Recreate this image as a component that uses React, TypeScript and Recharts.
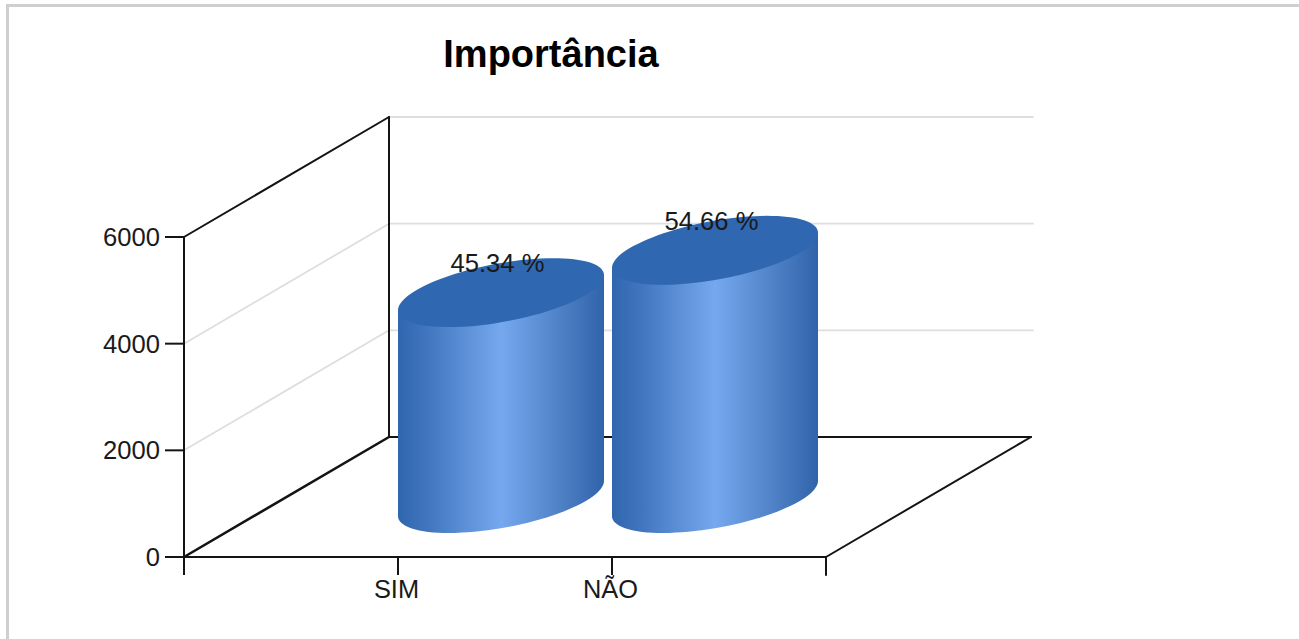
import React from "react";
import { BarChart, Bar, XAxis, YAxis, LabelList, usePlotArea } from "recharts";

const categories = ["", "SIM", "NÃO"];
const totals = [null, 3860, 4654];
const percents = ["", "45.34 %", "54.66 %"];
const yTicks = [0, 2000, 4000, 6000];

const chartData = categories.map((name, i) => ({ name, total: totals[i], percent: percents[i] }));

const W = 1299;
const H = 639;
const Y_MAX = 6000;
// depth of the fake 3d box
const DEPTH_X = 205;
const DEPTH_Y = 120;
// cylinder placement in the box and shape of its sheared ellipse
const CYL_DX = -4;
const CYL_DY = -58.5;
const CYL_RX = 103;
const CYL_SHEAR = 17.5;
const CYL_RY = 29.7;

const ink = "#141414";
const gridGrey = "#dedede";

function Frame() {
  const plot = usePlotArea();
  if (!plot) return null;
  const { x, y, width, height } = plot;
  const right = x + width;
  const bottom = y + height;
  const levels = yTicks.map((t) => bottom - (t / Y_MAX) * height);
  const backX = x + DEPTH_X;
  return (
    <g fill="none" strokeLinecap="round">
      {levels.slice(1).map((ly, i) => (
        <g key={i} stroke={gridGrey} strokeWidth={1.8}>
          <line x1={backX} y1={ly - DEPTH_Y} x2={right + DEPTH_X + 2} y2={ly - DEPTH_Y} />
          {i < levels.length - 2 && <line x1={x} y1={ly} x2={backX} y2={ly - DEPTH_Y} />}
        </g>
      ))}
      <g stroke={ink} strokeWidth={2}>
        <line x1={x} y1={y} x2={backX} y2={y - DEPTH_Y} />
        <line x1={backX} y1={y - DEPTH_Y} x2={backX} y2={bottom - DEPTH_Y} />
        <line x1={backX} y1={bottom - DEPTH_Y} x2={right + DEPTH_X} y2={bottom - DEPTH_Y} />
        <line x1={right + DEPTH_X} y1={bottom - DEPTH_Y} x2={right} y2={bottom} />
        <line x1={x} y1={bottom} x2={backX} y2={bottom - DEPTH_Y} strokeWidth={2.6} />
        <line x1={right} y1={bottom} x2={right} y2={bottom + 18} />
      </g>
      <text x={551} y={67} textAnchor="middle" fill="#000" stroke="none" fontSize={38} fontWeight={700} fontFamily="Liberation Sans">
        Importância
      </text>
    </g>
  );
}

function ellipsePoint(cx: number, cy: number, t: number) {
  return [cx + CYL_RX * Math.cos(t), cy - CYL_SHEAR * Math.cos(t) + CYL_RY * Math.sin(t)];
}

function Cylinder(props: any) {
  const { x, y, width, height } = props;
  if (!height) return null;
  const cx = x + width / 2 + CYL_DX;
  const topY = y + CYL_DY;
  const botY = y + height + CYL_DY;
  const steps = 48;
  const lower: string[] = [];
  const cap: string[] = [];
  for (let i = 0; i <= steps; i++) {
    const t = Math.PI - (i / steps) * Math.PI;
    lower.push(ellipsePoint(cx, botY, t).map((n) => n.toFixed(1)).join(" "));
  }
  for (let i = 0; i < steps * 2; i++) {
    const t = (i / (steps * 2)) * Math.PI * 2;
    cap.push(ellipsePoint(cx, topY, t).map((n) => n.toFixed(1)).join(" "));
  }
  const [lx, ly] = ellipsePoint(cx, topY, Math.PI);
  const [rx, ry] = ellipsePoint(cx, topY, 0);
  const body = `M${lx} ${ly} L${lower.join(" L")} L${rx} ${ry} Z`;
  return (
    <g>
      <path d={body} fill="url(#cylBody)" />
      <path d={`M${cap.join(" L")} Z`} fill="#2f67b1" />
    </g>
  );
}

function PercentLabel(props: any) {
  const { x, y, width, value } = props;
  if (!value) return null;
  return (
    <text x={x + width / 2 - 7.5} y={y + CYL_DY - 20.5} textAnchor="middle" fontSize={25.6} fontFamily="Liberation Sans" fill="#1a1a1a">
      {value}
    </text>
  );
}

function CategoryTick(props: any) {
  const { x, y, payload } = props;
  // tick marks sit on the left edge of each slot, with the label under them
  const slot = 642 / categories.length;
  const left = x - slot / 2;
  return (
    <g>
      <line x1={left} y1={y - 8} x2={left} y2={y + 10} stroke={ink} strokeWidth={2} />
      <text x={left - 1.5} y={y + 33} textAnchor="middle" fontSize={25.4} fontFamily="Liberation Sans" fill="#1a1a1a">
        {payload.value}
      </text>
    </g>
  );
}

export default function App() {
  return (
    <div style={{ position: "absolute", left: 0, top: 0, width: W, height: H, overflow: "hidden", background: "#fff" }}>
      <div style={{ position: "absolute", left: 6, top: 4, width: W, height: H, borderTop: "3px solid #cfcfcf", borderLeft: "3px solid #cfcfcf" }} />
      <div style={{ position: "absolute", left: 0, top: 0 }}>
        <BarChart width={W} height={H} data={chartData} margin={{ top: 237, right: 473, bottom: 0, left: 0 }} barSize={206}>
          <defs>
            <linearGradient id="cylBody" x1="0" y1="0" x2="1" y2="0">
              <stop offset="0%" stopColor="#2f66ae" />
              <stop offset="15%" stopColor="#4277bf" />
              <stop offset="50%" stopColor="#75a8ee" />
              <stop offset="75%" stopColor="#5486cb" />
              <stop offset="100%" stopColor="#3063aa" />
            </linearGradient>
          </defs>
          <Frame />
          <XAxis
            dataKey="name"
            height={82}
            interval={0}
            axisLine={{ stroke: ink, strokeWidth: 2 }}
            tickLine={false}
            tick={<CategoryTick />}
          />
          <YAxis
            width={184}
            domain={[0, Y_MAX]}
            ticks={yTicks}
            tickSize={19}
            tickMargin={5}
            axisLine={{ stroke: ink, strokeWidth: 2 }}
            tickLine={{ stroke: ink, strokeWidth: 2 }}
            tick={{ fill: "#1a1a1a", fontSize: 25.6, fontFamily: "Liberation Sans" }}
          />
          <Bar dataKey="total" isAnimationActive={false} shape={<Cylinder />}>
            <LabelList dataKey="percent" content={<PercentLabel />} />
          </Bar>
        </BarChart>
      </div>
    </div>
  );
}
